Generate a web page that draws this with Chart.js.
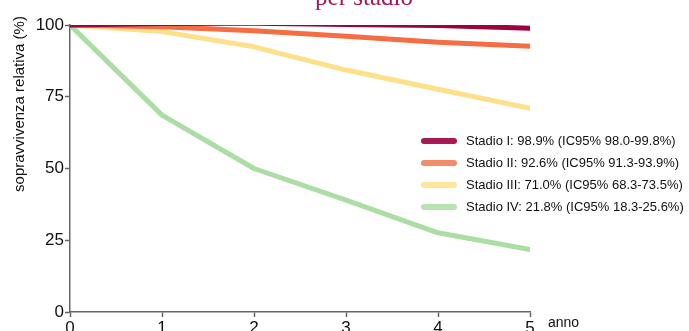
<!DOCTYPE html>
<html>
<head>
<meta charset="utf-8">
<script src="https://cdn.jsdelivr.net/npm/chart.js@4"></script>
<style>
  html, body { margin: 0; padding: 0; background: #fff; }
  #wrap { width: 689px; height: 331px; overflow: hidden; }
</style>
</head>
<body>
<div id="wrap"><canvas id="chart" width="689" height="331"></canvas></div>
<script>
const years = [0, 1, 2, 3, 4, 5]
const yTicks = [0, 25, 50, 75, 100]

const stadioI = [100, 100.5, 100.6, 100.2, 99.8, 98.9]
const stadioII = [100, 99.4, 98.0, 96.1, 94.0, 92.6]
const stadioIII = [100, 97.7, 92.4, 84.3, 77.6, 71.0]
const stadioIV = [100, 68.6, 50.0, 39.0, 27.6, 21.8]

const labels = [
    'Stadio I: 98.9% (IC95% 98.0-99.8%)',
    'Stadio II: 92.6% (IC95% 91.3-93.9%)',
    'Stadio III: 71.0% (IC95% 68.3-73.5%)',
    'Stadio IV: 21.8% (IC95% 18.3-25.6%)'
]
const colors = ['#9e0142', '#f46d43', '#fee08b', '#abdda4']
const legendColors = ['rgba(158,1,66,0.9)', 'rgba(240,120,80,0.85)', 'rgba(254,224,139,0.85)', 'rgba(171,221,164,0.85)']

const titleText = 'per stadio'
const yTitle = 'sopravvivenza relativa (%)'
const xTitle = 'anno'

function makeDataset(label, values, color) {
    return {
        label: label,
        data: years.map((x, i) => ({ x: x, y: values[i] })),
        borderColor: color,
        borderWidth: 5,
        borderCapStyle: 'round',
        borderJoinStyle: 'round',
        pointRadius: 0,
        tension: 0,
        fill: false
    }
}

const extras = {
    id: 'extras',
    afterDraw(chart) {
        const ctx = chart.ctx
        const area = chart.chartArea
        ctx.save()

        // title (top line cut off in the original)
        ctx.fillStyle = '#a3195b'
        ctx.font = '25px "Liberation Serif", serif'
        ctx.textAlign = 'center'
        ctx.textBaseline = 'alphabetic'
        ctx.fillText(titleText, 364, 5)

        // y axis title
        ctx.fillStyle = '#111'
        ctx.font = '15px "Liberation Sans", Arial, sans-serif'
        ctx.translate(20, 104)
        ctx.rotate(-Math.PI / 2)
        ctx.textBaseline = 'middle'
        ctx.fillText(yTitle, 0, 0)
        ctx.setTransform(1, 0, 0, 1, 0, 0)

        // x axis title
        ctx.textAlign = 'left'
        ctx.font = '14px "Liberation Sans", Arial, sans-serif'
        ctx.fillText(xTitle, area.right + 18, 323)

        // legend
        ctx.font = '13px "Liberation Sans", Arial, sans-serif'
        chart.data.datasets.forEach((ds, i) => {
            const y = 141 + i * 22
            ctx.strokeStyle = legendColors[i]
            ctx.lineWidth = 6
            ctx.lineCap = 'round'
            ctx.beginPath()
            ctx.moveTo(424, y)
            ctx.lineTo(454, y)
            ctx.stroke()
            ctx.fillStyle = '#111'
            ctx.fillText(ds.label, 466, y)
        })
        ctx.restore()
    }
}

const tickFont = { family: '"Liberation Sans", Arial, sans-serif', size: 17 }

new Chart(document.getElementById('chart'), {
    type: 'line',
    data: {
        datasets: [
            makeDataset(labels[0], stadioI, colors[0]),
            makeDataset(labels[1], stadioII, colors[1]),
            makeDataset(labels[2], stadioIII, colors[2]),
            makeDataset(labels[3], stadioIV, colors[3])
        ]
    },
    options: {
        responsive: false,
        animation: false,
        layout: { padding: { top: 25, right: 159, left: 0, bottom: 0 } },
        plugins: { legend: { display: false }, tooltip: { enabled: false } },
        scales: {
            x: {
                type: 'linear',
                min: 0,
                max: 5,
                afterFit: s => { s.height = 19 },
                afterBuildTicks: s => { s.ticks = years.map(v => ({ value: v })) },
                border: { color: '#666', width: 1.5 },
                grid: { drawOnChartArea: false, color: '#666', tickLength: 5, tickWidth: 1.5 },
                ticks: { color: '#111', font: tickFont, padding: 1, maxRotation: 0 }
            },
            y: {
                min: 0,
                max: 100,
                afterFit: s => { s.width = 70 },
                afterBuildTicks: s => { s.ticks = yTicks.map(v => ({ value: v })) },
                border: { color: '#666', width: 1.5 },
                grid: { drawOnChartArea: false, color: '#666', tickLength: 5, tickWidth: 1.5 },
                ticks: { color: '#111', font: tickFont, padding: 1 }
            }
        }
    },
    plugins: [extras]
})
</script>
</body>
</html>
